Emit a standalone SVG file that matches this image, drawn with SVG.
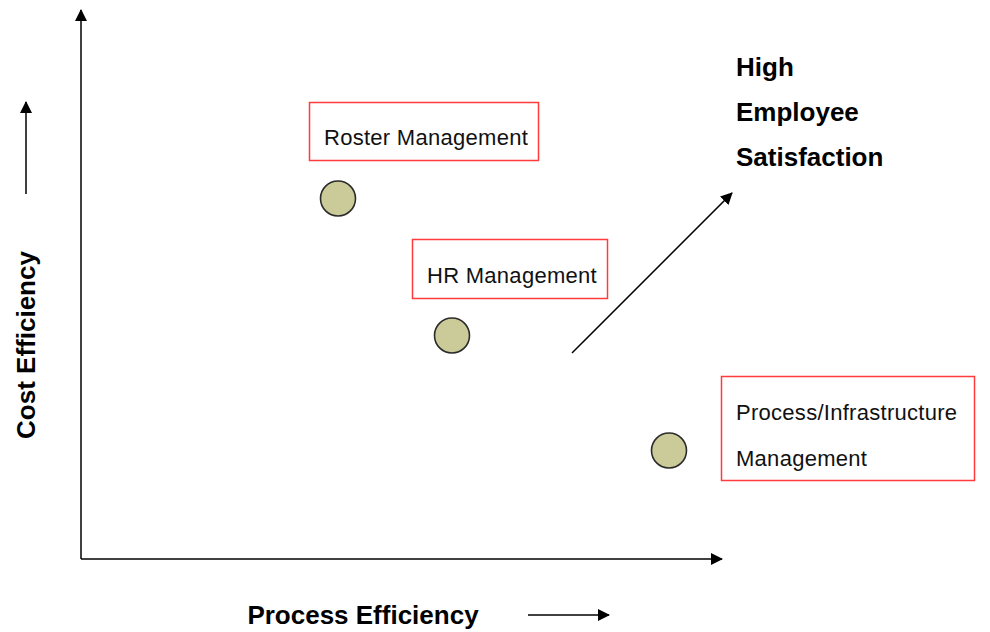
<svg xmlns="http://www.w3.org/2000/svg" width="990" height="632" viewBox="0 0 990 632">
  <style>
    .axis { stroke: #000; stroke-width: 1.5; fill: none; }
    .box { fill: #fff; stroke: #ff3b3b; stroke-width: 1.5; }
    .dot { fill: #cbcb99; stroke: #2b2b2b; stroke-width: 1.6; }
    .lbl { font-family: "Liberation Sans", Arial, sans-serif; font-size: 22px; letter-spacing: 0.28px; fill: #111; }
    .bold { font-family: "Liberation Sans", Arial, sans-serif; font-size: 26px; font-weight: bold; fill: #000; }
  </style>
  <defs>
    <marker id="head" viewBox="0 0 12 12" refX="11" refY="6" markerWidth="12" markerHeight="12" markerUnits="userSpaceOnUse" orient="auto">
      <path d="M0,0 L12,6 L0,12 Z" fill="#000"/>
    </marker>
  </defs>
  <rect width="990" height="632" fill="#fff"/>

  <g id="connectors">
    <!-- chart axes -->
    <path class="axis" d="M81,559 L81,10" marker-end="url(#head)"/>
    <path class="axis" d="M81,559 L722,559" marker-end="url(#head)"/>
    <!-- direction hints beside axis titles -->
    <path class="axis" d="M26,194 L26,102" stroke="#333" marker-end="url(#head)"/>
    <path class="axis" d="M528,615 L609,615" marker-end="url(#head)"/>
    <!-- trend arrow -->
    <path class="axis" d="M572,353 L732,193" stroke-width="2" marker-end="url(#head)"/>
  </g>

  <g id="axis-titles">
    <text class="bold" x="363" y="624" text-anchor="middle">Process Efficiency</text>
    <text class="bold" transform="translate(35,345) rotate(-90)" text-anchor="middle">Cost Efficiency</text>
  </g>

  <g id="goal">
    <text class="bold" x="736" y="76">High</text>
    <text class="bold" x="736" y="121">Employee</text>
    <text class="bold" x="736" y="166">Satisfaction</text>
  </g>

  <g id="roster">
    <rect class="box" x="309.5" y="102.5" width="229" height="58"/>
    <text class="lbl" x="324" y="145">Roster Management</text>
    <circle class="dot" cx="338" cy="198.5" r="17.5"/>
  </g>

  <g id="hr">
    <rect class="box" x="412.5" y="239.5" width="195" height="59"/>
    <text class="lbl" x="427" y="283">HR Management</text>
    <circle class="dot" cx="452" cy="335.5" r="17.5"/>
  </g>

  <g id="process-infrastructure">
    <rect class="box" x="721.5" y="376.5" width="253" height="104"/>
    <text class="lbl" x="736" y="420">Process/Infrastructure</text>
    <text class="lbl" x="736" y="466">Management</text>
    <circle class="dot" cx="669" cy="450.5" r="17.5"/>
  </g>
</svg>
